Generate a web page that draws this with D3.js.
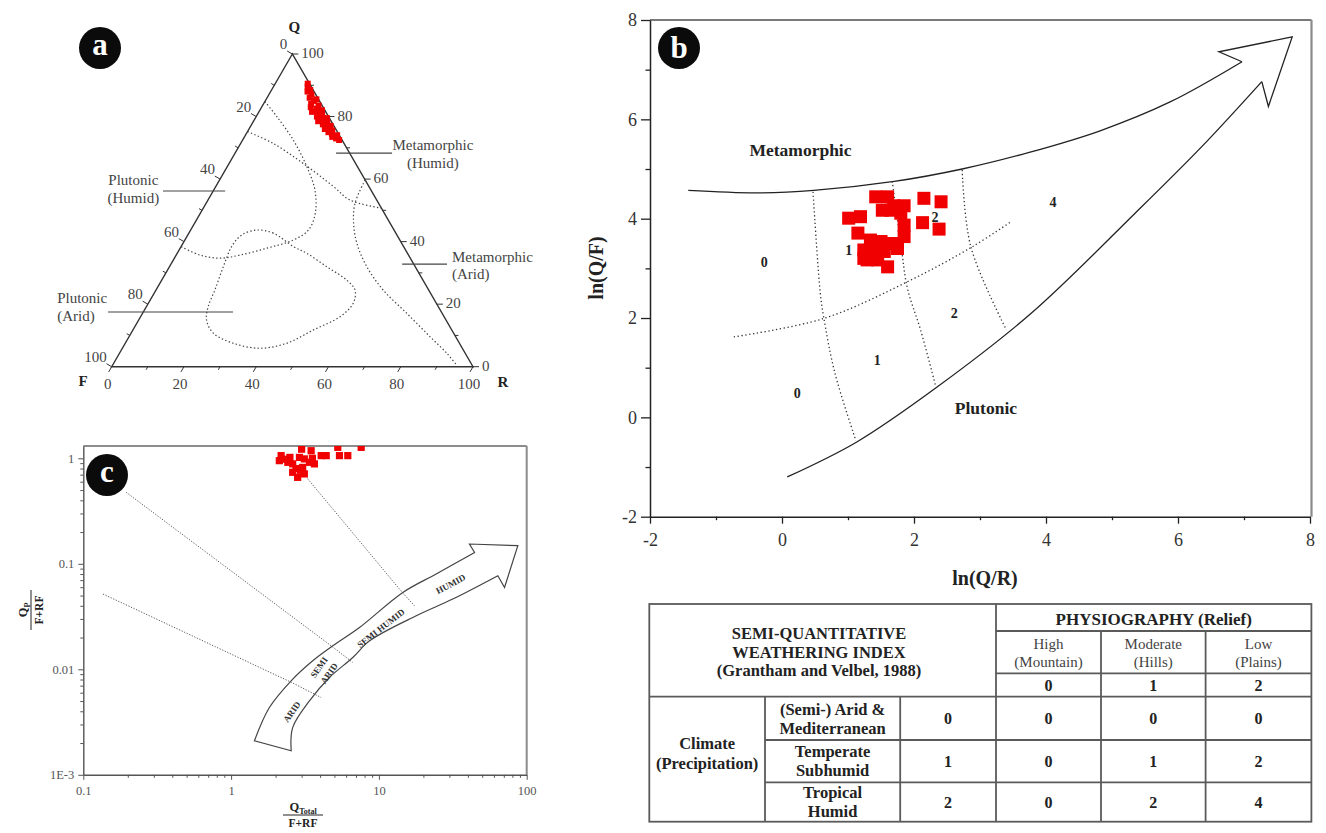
<!DOCTYPE html>
<html>
<head>
<meta charset="utf-8">
<script src="https://cdn.jsdelivr.net/npm/d3@7"></script>
<style>
  body { margin: 0; background: #fff; }
  svg { display: block; }
  svg text { font-family: "Liberation Serif", "Times New Roman", Times, serif; }
</style>
</head>
<body>
<svg id="fig" width="1326" height="833" font-family="Liberation Serif, serif"></svg>
<script>
// ---------- (a) QFR ternary: sample compositions [Q %, F %] (R = remainder) ----------
const qfrSamples = [
  [90.5,0.5],[89.5,1.0],[88.5,0.8],[88,1.8],[87,1.2],[86,2.2],[85.5,0.6],[85,1.5],
  [84,2.8],[83.5,1.0],[83,3.4],[82.5,2.0],[82,0.8],[81.5,3.8],[81,2.5],[80.5,1.5],
  [80,3.2],[79.5,0.7],[79,2.4],[78.5,3.6],[78,1.3],[77.5,2.8],[77,0.9],[76.5,2.1],
  [76,3.0],[75.5,1.2],[75,2.5],[74.5,1.8],[74,0.6],[73.5,2.2],[73,1.4],[72.5,0.8]
];
const ternTicks = [0, 20, 40, 60, 80, 100];
// Source-rock field boundaries, points as [Q %, R %]
const fieldMetaHumid = [[75.2,0],[71.4,9.0],[65.0,20.5],[57.6,32.6],[53.3,39.3],[50.7,49.3]];
const fieldPlutHumid = [[84.8,0],[80.0,5.7],[72.5,14.0],[64.0,22.0],[56.5,28.0],[49.1,31.8],[43.7,32.6],
  [40.5,30.0],[37.9,24.0],[35.7,17.7],[34.7,12.6],[35.7,6.6],[38.4,0]];
const fieldPlutArid = [[38.4,31.1],[42.7,23.4],[43.7,18.3],[42.1,14.9],[38.4,14.0],[32.0,14.9],[24.5,16.3],
  [19.2,17.1],[14.9,18.8],[10.7,22.8],[7.5,29.9],[5.9,38.1],[7.5,44.7],[11.7,49.9],[16.0,55.2],
  [20.3,56.7],[24.5,55.1],[27.7,51.2],[32.0,43.5],[36.3,35.8]];
const fieldMetaArid = [[59.7,40.3],[52.3,41.2],[45.9,44.0],[39.5,48.1],[32.0,54.6],[24.5,62.9],
  [17.1,73.1],[9.6,83.3],[4.3,90.6],[0.5,95.2]];

// ---------- (b) log-ratio plot: samples [ln(Q/R), ln(Q/F)] ----------
const lnSamples = [
  [1.42,4.44],[1.60,4.44],[1.52,4.17],[1.65,4.17],[1.85,4.26],[1.80,4.11],[2.15,4.41],[2.41,4.34],
  [2.13,3.92],[2.38,3.79],[1.01,4.01],[1.19,4.04],[1.15,3.71],[1.85,3.87],[1.85,3.64],[1.34,3.57],
  [1.50,3.54],[1.67,3.50],[1.24,3.37],[1.39,3.30],[1.55,3.34],[1.75,3.40],[1.24,3.20],[1.45,3.17],
  [1.60,3.03],[1.34,3.37],[1.29,3.17],[1.69,4.26]
];
const lnTicks = [-2, 0, 2, 4, 6, 8];
const metaBoundary = [[-1.42,4.57],[-0.38,4.52],[0.48,4.57],[1.70,4.75],[2.73,5.0],[3.76,5.34],
  [4.82,5.77],[5.88,6.35],[6.97,7.16]];
const plutBoundary = [[0.08,-1.2],[1.14,-0.49],[2.36,0.62],[3.78,2.10],[5.35,4.11],[6.36,5.45],[7.27,6.76]];
const arrowHeadB = [[6.97,7.16],[6.62,7.36],[7.73,7.66],[7.37,6.26],[7.27,6.76]];
const climateDivide = [[-0.73,1.62],[0.63,1.99],[1.90,2.73],[2.89,3.44],[3.47,3.94]];
const reliefDivides = [
  [[0.47,4.54],[0.58,2.50],[0.63,2.03],[0.80,0.90],[1.12,-0.47]],
  [[1.67,4.75],[1.80,3.50],[1.90,2.60],[2.10,1.76],[2.33,0.62]],
  [[2.73,4.98],[2.86,3.44],[3.40,1.76]]
];
const weatheringLabels = [
  ["0",-0.27,3.13],["1",1.01,3.37],["2",2.32,4.04],["4",4.105,4.34],
  ["2",2.61,2.10],["1",1.445,1.155],["0",0.23,0.48]
];
const sourceLabels = [["Metamorphic",0.28,5.38],["Plutonic",3.09,0.19]];

// ---------- (c) climate plot: samples [Qtotal/(F+RF), Qp/(F+RF)] ----------
const climSamples = [
  [2.18,1.06],[2.12,0.95],[2.42,0.916],[2.61,0.885],[2.90,1.02],[3.13,0.987],[3.48,1.18],[3.39,0.916],
  [3.66,0.885],[4.07,1.06],[4.40,1.06],[3.05,0.82],[2.61,0.737],[2.82,0.66],[3.13,0.711],[5.41,1.06],
  [6.16,1.06],[5.27,1.27],[7.59,1.27],[2.30,0.98],[2.75,0.80],[2.50,1.02],[2.95,0.77],[3.55,1.0],[3.0,1.22]
];
const climXMajor = [0.1, 1, 10, 100];
const climXLabels = ["0.1", "1", "10", "100"];
const climYMajor = [0.001, 0.01, 0.1, 1];
const climYLabels = ["1E-3", "0.01", "0.1", "1"];
const climArrowOuter = [[1.438,0.0021],[1.816,0.00434],[2.548,0.00778],[3.568,0.01205],[4.874,0.0167],
  [7.39,0.0249],[14.52,0.0535],[24.4,0.080],[44.4,0.128]];
const climArrowHead = [[44.4,0.128],[41.0,0.154],[87.1,0.1485],[70.8,0.0597],[63.8,0.0771]];
const climArrowInner = [[63.8,0.0771],[31.6,0.0463],[17.9,0.0322],[8.64,0.0186],[6.66,0.01294],
  [4.63,0.00836],[3.39,0.00502],[2.61,0.0028],[2.55,0.00169]];
const climDivides = [
  [[0.136,0.0517],[2.57,0.0075],[4.07,0.0054]],
  [[0.195,0.476],[4.75,0.0167],[6.66,0.0116]],
  [[3.29,0.642],[14.4,0.0535],[17.4,0.040]]
];
const climZones = [
  ["ARID",2.57,0.00396,-55],["SEMI",3.93,0.01045,-55],["ARID",4.60,0.00916,-55],
  ["SEMI HUMID",10.3,0.0245,-38],["HUMID",30.6,0.0644,-28]
];

// ---------- weathering index table ----------
const reliefNames = [["High","(Mountain)"],["Moderate","(Hills)"],["Low","(Plains)"]];
const reliefScores = [0, 1, 2];
const climateNames = [["(Semi-) Arid &","Mediterranean"],["Temperate","Subhumid"],["Tropical","Humid"]];
const climateScores = [0, 1, 2];
const indexValues = [[0,0,0],[0,1,2],[0,2,4]];

// ======================================================================
const FONT = '"Liberation Serif", "Times New Roman", serif';
const svg = d3.select("#fig");
svg.append("rect").attr("width", 1326).attr("height", 833).attr("fill", "#fff");
const RED = "#f00000";

function badge(cx, cy, letter, dy) {
  svg.append("circle").attr("cx", cx).attr("cy", cy).attr("r", 21).attr("fill", "#0b0b0b");
  svg.append("text").attr("x", cx).attr("y", cy).attr("dy", dy).attr("text-anchor", "middle")
    .attr("font-family", FONT).attr("fill", "#fff").attr("font-weight", "bold").attr("font-size", 31).text(letter);
}
function addText(g, x, y, str, opt = {}) {
  return g.append("text").attr("x", x).attr("y", y).attr("dy", "0.35em")
    .attr("font-family", FONT)
    .attr("text-anchor", opt.anchor || "middle")
    .attr("font-size", opt.size || 14)
    .attr("font-weight", opt.bold ? "bold" : "normal")
    .attr("fill", opt.color || "#222").text(str);
}

// ---------------------------- panel (a) ----------------------------
const ga = svg.append("g");
const tu = d3.scaleLinear().domain([0, 1]).range([111.7, 473]);   // horizontal plane position
const tq = d3.scaleLinear().domain([0, 1]).range([366.7, 54]);    // Q fraction -> height
const tern = (q, r) => [tu(r / 100 + q / 200), tq(q / 100)];
const smooth = d3.line().curve(d3.curveCatmullRom.alpha(0.5));
const smoothClosed = d3.line().curve(d3.curveCatmullRomClosed.alpha(0.5));

ga.append("path").attr("d", d3.line()([tern(100, 0), tern(0, 0), tern(0, 100)]) + "Z")
  .attr("fill", "none").attr("stroke", "#333").attr("stroke-width", 1.4);

d3.range(0, 101, 10).forEach(v => {
  const len = v % 20 === 0 ? 6 : 3.5;
  const segs = [];
  let p = tern(0, v);               segs.push([p, [p[0] - 0.5 * len, p[1] + 0.866 * len]]);
  p = tern(100 - v, 0);             segs.push([p, [p[0] - 0.866 * len, p[1] - 0.5 * len]]);
  p = tern(v, 100 - v);             segs.push([p, [p[0] + len, p[1]]]);
  segs.forEach(s => ga.append("path").attr("d", d3.line()(s)).attr("stroke", "#333").attr("stroke-width", 1));
});
ternTicks.forEach(v => {
  let p = tern(0, v);
  addText(ga, p[0] - 4, p[1] + 17, v, { color: "#444", size: 15 });
  p = tern(100 - v, 0);
  addText(ga, p[0] - 5, p[1] - 10, v, { anchor: "end", color: "#444", size: 15 });
  p = tern(v, 100 - v);
  addText(ga, p[0] + 9, p[1] - 1, v, { anchor: "start", color: "#444", size: 15 });
});
addText(ga, tern(100, 0)[0] + 2, 27, "Q", { bold: true, size: 15 });
addText(ga, 83, 381, "F", { bold: true, size: 15 });
addText(ga, 503, 382, "R", { bold: true, size: 15 });

const fieldStyle = sel => sel.attr("fill", "none").attr("stroke", "#444")
  .attr("stroke-width", 1.2).attr("stroke-dasharray", "1.4,2.3");
[fieldMetaHumid, fieldPlutHumid, fieldMetaArid].forEach(f =>
  ga.append("path").attr("d", smooth(f.map(d => tern(d[0], d[1])))).call(fieldStyle));
ga.append("path").attr("d", smoothClosed(fieldPlutArid.map(d => tern(d[0], d[1])))).call(fieldStyle);

const fieldNotes = [
  { lines: ["Metamorphic", "(Humid)"], anchor: "middle", at: [0.889, 0.709], lead: [0.621, 0.776, 0.683] },
  { lines: ["Plutonic", "(Humid)"], anchor: "middle", at: [0.060, 0.597], lead: [0.142, 0.314, 0.562] },
  { lines: ["Metamorphic", "(Arid)"], anchor: "start", at: [0.942, 0.352], lead: [0.804, 0.928, 0.328] },
  { lines: ["Plutonic", "(Arid)"], anchor: "start", at: [-0.151, 0.220], lead: [-0.010, 0.336, 0.175] }
];
fieldNotes.forEach(n => {
  ga.append("line").attr("x1", tu(n.lead[0])).attr("x2", tu(n.lead[1]))
    .attr("y1", tq(n.lead[2])).attr("y2", tq(n.lead[2])).attr("stroke", "#444").attr("stroke-width", 1.1);
  n.lines.forEach((s, i) => addText(ga, tu(n.at[0]), tq(n.at[1]) + i * 17.5, s,
    { anchor: n.anchor, color: "#444", size: 15 }));
});
ga.selectAll("rect.q").data(qfrSamples).join("rect")
  .attr("x", d => tern(d[0], 100 - d[0] - d[1])[0] - 3)
  .attr("y", d => tern(d[0], 100 - d[0] - d[1])[1] - 3)
  .attr("width", 6).attr("height", 6).attr("fill", RED);
badge(100, 48, "a", "0.24em");

// ---------------------------- panel (b) ----------------------------
const gb = svg.append("g");
const bx = d3.scaleLinear().domain([-2, 8]).range([650, 1310]);
const by = d3.scaleLinear().domain([-2, 8]).range([516.7, 20]);
const bpt = d => [bx(d[0]), by(d[1])];

gb.append("line").attr("x1", bx(-2)).attr("x2", 1311.5).attr("y1", by(8)).attr("y2", by(8))
  .attr("stroke", "#7a7a7a").attr("stroke-width", 2.2);
gb.append("line").attr("x1", 1311.5).attr("x2", 1311.5).attr("y1", by(8)).attr("y2", by(-2))
  .attr("stroke", "#8a8a8a").attr("stroke-width", 2.2);

const axB = (sel, isX) => {
  sel.selectAll("text").attr("font-family", FONT).attr("font-size", 18).attr("fill", "#333");
  sel.select(".domain").attr("stroke", "#222").attr("stroke-width", 1.5);
  sel.selectAll(".tick line").attr("stroke", "#222").attr("stroke-width", 1.3)
    .attr(isX ? "y2" : "x2", d => (d % 2 === 0 ? 1 : 0.5) * (isX ? 7 : -9));
};
gb.append("g").attr("transform", `translate(0,${by(-2)})`)
  .call(d3.axisBottom(bx).tickValues(d3.range(-2, 9)).tickSize(7).tickSizeOuter(0).tickPadding(10)
    .tickFormat(d => lnTicks.includes(d) ? String(d) : ""))
  .call(s => axB(s, true));
gb.append("g").attr("transform", `translate(${bx(-2)},0)`)
  .call(d3.axisLeft(by).tickValues(d3.range(-2, 9)).tickSize(9).tickSizeOuter(0).tickPadding(4)
    .tickFormat(d => lnTicks.includes(d) ? String(d) : ""))
  .call(s => axB(s, false));
addText(gb, 985, 578, "ln(Q/R)", { bold: true, size: 20 });
addText(gb, 0, 0, "ln(Q/F)", { bold: true, size: 20 }).attr("transform", "translate(596,268) rotate(-90)");

const solid = sel => sel.attr("fill", "none").attr("stroke", "#222").attr("stroke-width", 1.3);
gb.append("path").attr("d", smooth(metaBoundary.map(bpt))).call(solid);
gb.append("path").attr("d", smooth(plutBoundary.map(bpt))).call(solid);
gb.append("path").attr("d", d3.line()(arrowHeadB.map(bpt))).call(solid).attr("stroke-linejoin", "miter");
const dotted = sel => sel.attr("fill", "none").attr("stroke", "#333")
  .attr("stroke-width", 1.3).attr("stroke-dasharray", "1.3,2.6");
gb.append("path").attr("d", smooth(climateDivide.map(bpt))).call(dotted);
reliefDivides.forEach(r => gb.append("path").attr("d", smooth(r.map(bpt))).call(dotted));
weatheringLabels.forEach(l => addText(gb, bx(l[1]), by(l[2]), l[0], { bold: true, size: 14 }));
sourceLabels.forEach(l => addText(gb, bx(l[1]), by(l[2]), l[0], { bold: true, size: 17.5 }));
gb.selectAll("rect.s").data(lnSamples).join("rect")
  .attr("x", d => bx(d[0]) - 6.5).attr("y", d => by(d[1]) - 6.5)
  .attr("width", 13).attr("height", 13).attr("fill", RED);
badge(679, 48, "b", "0.33em");

// ---------------------------- panel (c) ----------------------------
const gc = svg.append("g");
const cx = d3.scaleLog().domain([0.1, 100]).range([83.3, 526.7]);
const cy = d3.scaleLog().domain([0.001, 1.308]).range([774.8, 446]);
const cpt = d => [cx(d[0]), cy(d[1])];
const isDecade = d => Math.abs(Math.log10(d) - Math.round(Math.log10(d))) < 1e-6;

const xTickVals = [], yTickVals = [];
[0.1, 1, 10].forEach(dec => d3.range(1, 10).forEach(k => xTickVals.push(dec * k)));
xTickVals.push(100);
[0.001, 0.01, 0.1].forEach(dec => d3.range(1, 10).forEach(k => yTickVals.push(dec * k)));
yTickVals.push(1);

gc.append("line").attr("x1", cx(0.1)).attr("x2", cx(100)).attr("y1", cy.range()[1]).attr("y2", cy.range()[1])
  .attr("stroke", "#8c8c8c").attr("stroke-width", 2);
gc.append("line").attr("x1", cx(100)).attr("x2", cx(100)).attr("y1", cy.range()[1]).attr("y2", cy.range()[0])
  .attr("stroke", "#8c8c8c").attr("stroke-width", 2);

const axC = (sel, isX) => {
  sel.selectAll("text").attr("font-family", FONT).attr("font-size", 12.5).attr("fill", "#555");
  sel.select(".domain").attr("stroke", "#555").attr("stroke-width", 1.4);
  sel.selectAll(".tick line").attr("stroke", "#555")
    .attr(isX ? "y2" : "x2", d => (isDecade(d) ? 5 : 3) * (isX ? 1 : -1));
};
gc.append("g").attr("transform", `translate(0,${cy.range()[0]})`)
  .call(d3.axisBottom(cx).tickValues(xTickVals).tickSize(5).tickSizeOuter(0).tickPadding(6)
    .tickFormat(d => { const i = climXMajor.findIndex(m => Math.abs(m - d) / m < 1e-6); return i >= 0 ? climXLabels[i] : ""; }))
  .call(s => axC(s, true));
gc.append("g").attr("transform", `translate(${cx(0.1)},0)`)
  .call(d3.axisLeft(cy).tickValues(yTickVals).tickSize(5).tickSizeOuter(0).tickPadding(4)
    .tickFormat(d => { const i = climYMajor.findIndex(m => Math.abs(m - d) / m < 1e-6); return i >= 0 ? climYLabels[i] : ""; }))
  .call(s => axC(s, false));

// axis titles as stacked fractions
function fraction(g, tx, ty, rot, mainSub, den) {
  const f = g.append("g").attr("transform", `translate(${tx},${ty}) rotate(${rot})`);
  const t = f.append("text").attr("x", 0).attr("y", -4).attr("text-anchor", "middle").attr("font-family", FONT)
    .attr("font-weight", "bold").attr("font-size", 12.5).attr("fill", "#222");
  t.append("tspan").text(mainSub[0]);
  t.append("tspan").attr("font-size", 8).attr("dy", 2.5).text(mainSub[1]);
  f.append("line").attr("x1", -20).attr("x2", 20).attr("y1", 0).attr("y2", 0).attr("stroke", "#222").attr("stroke-width", 1);
  f.append("text").attr("x", 0).attr("y", 12).attr("text-anchor", "middle").attr("font-family", FONT)
    .attr("font-weight", "bold").attr("font-size", 11.5).attr("fill", "#222").text(den);
}
fraction(gc, 303, 815, 0, ["Q", "Total"], "F+RF");
fraction(gc, 31, 610, -90, ["Q", "P"], "F+RF");

const arrowPath = smooth(climArrowOuter.map(cpt)) + d3.line()(climArrowHead.map(cpt)).replace("M", "L")
  + smooth(climArrowInner.map(cpt)).replace("M", "L") + "Z";
gc.append("path").attr("d", arrowPath).attr("fill", "#fff").attr("stroke", "#444").attr("stroke-width", 1.2);
climDivides.forEach(dv => gc.append("path").attr("d", d3.line()(dv.map(cpt)))
  .attr("fill", "none").attr("stroke", "#555").attr("stroke-width", 1).attr("stroke-dasharray", "1.2,1.6"));
climZones.forEach(z => {
  const p = cpt([z[1], z[2]]);
  gc.append("text").attr("transform", `translate(${p[0]},${p[1]}) rotate(${z[3]})`).attr("dy", "0.35em")
    .attr("font-family", FONT)
    .attr("text-anchor", "middle").attr("font-size", 9).attr("font-weight", "bold").attr("fill", "#333").text(z[0]);
});
svg.append("clipPath").attr("id", "cclip").append("rect")
  .attr("x", cx(0.1)).attr("y", cy.range()[1]).attr("width", cx(100) - cx(0.1)).attr("height", cy.range()[0] - cy.range()[1]);
gc.append("g").attr("clip-path", "url(#cclip)").selectAll("rect").data(climSamples).join("rect")
  .attr("x", d => cx(d[0]) - 3.6).attr("y", d => cy(d[1]) - 3.6)
  .attr("width", 7.2).attr("height", 7.2).attr("fill", RED);
badge(107, 475, "c", "0.24em");

// ---------------------------- weathering index table ----------------------------
const gt = svg.append("g");
const colX = [649.3, 765, 900.2, 996, 1101, 1205.6, 1311.4];
const rowY = [604, 631, 673.3, 696.7, 740, 782.3, 821.7];
const rule = (x1, y1, x2, y2) => gt.append("line").attr("x1", x1).attr("y1", y1).attr("x2", x2).attr("y2", y2)
  .attr("stroke", "#5a5a5a").attr("stroke-width", 1.8);
gt.append("rect").attr("x", colX[0]).attr("y", rowY[0]).attr("width", colX[6] - colX[0]).attr("height", rowY[6] - rowY[0])
  .attr("fill", "none").attr("stroke", "#5a5a5a").attr("stroke-width", 1.8);
rule(colX[3], rowY[1], colX[6], rowY[1]);
rule(colX[3], rowY[2], colX[6], rowY[2]);
rule(colX[0], rowY[3], colX[6], rowY[3]);
rule(colX[1], rowY[4], colX[6], rowY[4]);
rule(colX[1], rowY[5], colX[6], rowY[5]);
rule(colX[3], rowY[0], colX[3], rowY[6]);
rule(colX[4], rowY[1], colX[4], rowY[6]);
rule(colX[5], rowY[1], colX[5], rowY[6]);
rule(colX[1], rowY[3], colX[1], rowY[6]);
rule(colX[2], rowY[3], colX[2], rowY[6]);

const mid = (a, b) => (a + b) / 2;
["SEMI-QUANTITATIVE", "WEATHERING INDEX", "(Grantham and Velbel, 1988)"].forEach((s, i) =>
  addText(gt, 819, 633.5 + i * 18.3, s, { bold: true, size: 16.5 }));
addText(gt, mid(colX[3], colX[6]), 619.5, "PHYSIOGRAPHY (Relief)", { bold: true, size: 17 });
reliefNames.forEach((nm, i) => {
  const x = mid(colX[3 + i], colX[4 + i]);
  nm.forEach((s, j) => addText(gt, x, 643.3 + j * 18.4, s, { size: 15, color: "#444" }));
  addText(gt, x, mid(rowY[2], rowY[3]), reliefScores[i], { bold: true, size: 16 });
});
["Climate", "(Precipitation)"].forEach((s, i) => addText(gt, mid(colX[0], colX[1]), 743.5 + i * 20, s, { bold: true, size: 16.5 }));
climateNames.forEach((nm, i) => {
  const yc = mid(rowY[3 + i], rowY[4 + i]);
  nm.forEach((s, j) => addText(gt, mid(colX[1], colX[2]), yc - 9.5 + j * 19, s, { bold: true, size: 16.5 }));
  addText(gt, mid(colX[2], colX[3]), yc, climateScores[i], { bold: true, size: 16 });
  indexValues[i].forEach((v, k) => addText(gt, mid(colX[3 + k], colX[4 + k]), yc, v, { bold: true, size: 16 }));
});
</script>
</body>
</html>
